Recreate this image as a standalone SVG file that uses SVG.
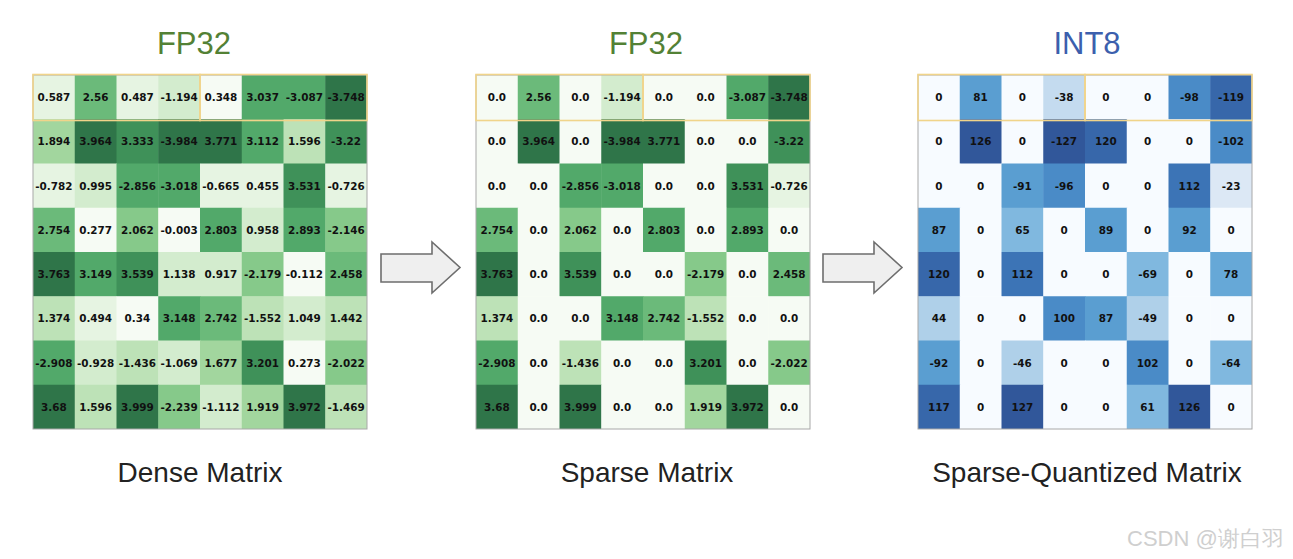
<svg xmlns="http://www.w3.org/2000/svg" width="1293" height="559" viewBox="0 0 1293 559">
<style>
text{font-family:"Liberation Sans",Arial,sans-serif}
.t{font-family:"DejaVu Sans",sans-serif;font-weight:bold;font-size:10.4px;fill:#111;text-anchor:middle;dominant-baseline:central}
.title{font-size:31px;text-anchor:middle}
.lab{font-size:28px;text-anchor:middle;fill:#222}
.border{fill:none;stroke:#a8a8a8;stroke-width:1}
.hl{fill:none;stroke:#f0d48a;stroke-width:1.6}
.arrow{fill:#efefef;stroke:#6e6e6e;stroke-width:1.6;stroke-linejoin:miter}
.g0{fill:#f6fbf4}.g1{fill:#e6f4e2}.g2{fill:#d3ecce}.g3{fill:#bde2b7}.g4{fill:#a2d69e}
.g5{fill:#86c98a}.g6{fill:#6bba7a}.g7{fill:#52a96a}.g8{fill:#3f9159}.g9{fill:#2f7549}
.b0{fill:#f7fbff}.b1{fill:#dce8f5}.b2{fill:#c4dbef}.b3{fill:#afd0e9}.b4{fill:#80b8df}
.b5{fill:#66a8d7}.b6{fill:#5a9ed1}.b7{fill:#4a8bc7}.b8{fill:#3c74b6}.b9{fill:#3767aa}.b10{fill:#31579a}
</style>
<rect width="1293" height="559" fill="#ffffff"/>

<g id="dense-matrix">
<text class="title" x="194" y="54" fill="#538135">FP32</text>
<g transform="translate(33,75)">
<rect class="g1" x="0" y="0" width="42.25" height="44.75"/><rect class="g6" x="41.75" y="0" width="42.25" height="44.75"/><rect class="g1" x="83.5" y="0" width="42.25" height="44.75"/><rect class="g2" x="125.25" y="0" width="42.25" height="44.75"/><rect class="g0" x="167" y="0" width="42.25" height="44.75"/><rect class="g7" x="208.75" y="0" width="42.25" height="44.75"/><rect class="g7" x="250.5" y="0" width="42.25" height="44.75"/><rect class="g9" x="292.25" y="0" width="41.75" height="44.75"/>
<rect class="g4" x="0" y="44.25" width="42.25" height="44.75"/><rect class="g9" x="41.75" y="44.25" width="42.25" height="44.75"/><rect class="g8" x="83.5" y="44.25" width="42.25" height="44.75"/><rect class="g9" x="125.25" y="44.25" width="42.25" height="44.75"/><rect class="g9" x="167" y="44.25" width="42.25" height="44.75"/><rect class="g7" x="208.75" y="44.25" width="42.25" height="44.75"/><rect class="g3" x="250.5" y="44.25" width="42.25" height="44.75"/><rect class="g8" x="292.25" y="44.25" width="41.75" height="44.75"/>
<rect class="g1" x="0" y="88.5" width="42.25" height="44.75"/><rect class="g2" x="41.75" y="88.5" width="42.25" height="44.75"/><rect class="g7" x="83.5" y="88.5" width="42.25" height="44.75"/><rect class="g7" x="125.25" y="88.5" width="42.25" height="44.75"/><rect class="g1" x="167" y="88.5" width="42.25" height="44.75"/><rect class="g1" x="208.75" y="88.5" width="42.25" height="44.75"/><rect class="g8" x="250.5" y="88.5" width="42.25" height="44.75"/><rect class="g1" x="292.25" y="88.5" width="41.75" height="44.75"/>
<rect class="g6" x="0" y="132.75" width="42.25" height="44.75"/><rect class="g0" x="41.75" y="132.75" width="42.25" height="44.75"/><rect class="g5" x="83.5" y="132.75" width="42.25" height="44.75"/><rect class="g0" x="125.25" y="132.75" width="42.25" height="44.75"/><rect class="g7" x="167" y="132.75" width="42.25" height="44.75"/><rect class="g2" x="208.75" y="132.75" width="42.25" height="44.75"/><rect class="g7" x="250.5" y="132.75" width="42.25" height="44.75"/><rect class="g5" x="292.25" y="132.75" width="41.75" height="44.75"/>
<rect class="g9" x="0" y="177" width="42.25" height="44.75"/><rect class="g7" x="41.75" y="177" width="42.25" height="44.75"/><rect class="g8" x="83.5" y="177" width="42.25" height="44.75"/><rect class="g2" x="125.25" y="177" width="42.25" height="44.75"/><rect class="g2" x="167" y="177" width="42.25" height="44.75"/><rect class="g5" x="208.75" y="177" width="42.25" height="44.75"/><rect class="g0" x="250.5" y="177" width="42.25" height="44.75"/><rect class="g6" x="292.25" y="177" width="41.75" height="44.75"/>
<rect class="g3" x="0" y="221.25" width="42.25" height="44.75"/><rect class="g1" x="41.75" y="221.25" width="42.25" height="44.75"/><rect class="g0" x="83.5" y="221.25" width="42.25" height="44.75"/><rect class="g7" x="125.25" y="221.25" width="42.25" height="44.75"/><rect class="g6" x="167" y="221.25" width="42.25" height="44.75"/><rect class="g3" x="208.75" y="221.25" width="42.25" height="44.75"/><rect class="g2" x="250.5" y="221.25" width="42.25" height="44.75"/><rect class="g3" x="292.25" y="221.25" width="41.75" height="44.75"/>
<rect class="g7" x="0" y="265.5" width="42.25" height="44.75"/><rect class="g2" x="41.75" y="265.5" width="42.25" height="44.75"/><rect class="g3" x="83.5" y="265.5" width="42.25" height="44.75"/><rect class="g2" x="125.25" y="265.5" width="42.25" height="44.75"/><rect class="g4" x="167" y="265.5" width="42.25" height="44.75"/><rect class="g8" x="208.75" y="265.5" width="42.25" height="44.75"/><rect class="g0" x="250.5" y="265.5" width="42.25" height="44.75"/><rect class="g5" x="292.25" y="265.5" width="41.75" height="44.75"/>
<rect class="g9" x="0" y="309.75" width="42.25" height="44.25"/><rect class="g3" x="41.75" y="309.75" width="42.25" height="44.25"/><rect class="g9" x="83.5" y="309.75" width="42.25" height="44.25"/><rect class="g5" x="125.25" y="309.75" width="42.25" height="44.25"/><rect class="g2" x="167" y="309.75" width="42.25" height="44.25"/><rect class="g4" x="208.75" y="309.75" width="42.25" height="44.25"/><rect class="g9" x="250.5" y="309.75" width="42.25" height="44.25"/><rect class="g3" x="292.25" y="309.75" width="41.75" height="44.25"/>
<text class="t" x="20.9" y="22.1">0.587</text><text class="t" x="62.6" y="22.1">2.56</text><text class="t" x="104.4" y="22.1">0.487</text><text class="t" x="146.1" y="22.1">-1.194</text><text class="t" x="187.9" y="22.1">0.348</text><text class="t" x="229.6" y="22.1">3.037</text><text class="t" x="271.4" y="22.1">-3.087</text><text class="t" x="313.1" y="22.1">-3.748</text>
<text class="t" x="20.9" y="66.4">1.894</text><text class="t" x="62.6" y="66.4">3.964</text><text class="t" x="104.4" y="66.4">3.333</text><text class="t" x="146.1" y="66.4">-3.984</text><text class="t" x="187.9" y="66.4">3.771</text><text class="t" x="229.6" y="66.4">3.112</text><text class="t" x="271.4" y="66.4">1.596</text><text class="t" x="313.1" y="66.4">-3.22</text>
<text class="t" x="20.9" y="110.6">-0.782</text><text class="t" x="62.6" y="110.6">0.995</text><text class="t" x="104.4" y="110.6">-2.856</text><text class="t" x="146.1" y="110.6">-3.018</text><text class="t" x="187.9" y="110.6">-0.665</text><text class="t" x="229.6" y="110.6">0.455</text><text class="t" x="271.4" y="110.6">3.531</text><text class="t" x="313.1" y="110.6">-0.726</text>
<text class="t" x="20.9" y="154.9">2.754</text><text class="t" x="62.6" y="154.9">0.277</text><text class="t" x="104.4" y="154.9">2.062</text><text class="t" x="146.1" y="154.9">-0.003</text><text class="t" x="187.9" y="154.9">2.803</text><text class="t" x="229.6" y="154.9">0.958</text><text class="t" x="271.4" y="154.9">2.893</text><text class="t" x="313.1" y="154.9">-2.146</text>
<text class="t" x="20.9" y="199.1">3.763</text><text class="t" x="62.6" y="199.1">3.149</text><text class="t" x="104.4" y="199.1">3.539</text><text class="t" x="146.1" y="199.1">1.138</text><text class="t" x="187.9" y="199.1">0.917</text><text class="t" x="229.6" y="199.1">-2.179</text><text class="t" x="271.4" y="199.1">-0.112</text><text class="t" x="313.1" y="199.1">2.458</text>
<text class="t" x="20.9" y="243.4">1.374</text><text class="t" x="62.6" y="243.4">0.494</text><text class="t" x="104.4" y="243.4">0.34</text><text class="t" x="146.1" y="243.4">3.148</text><text class="t" x="187.9" y="243.4">2.742</text><text class="t" x="229.6" y="243.4">-1.552</text><text class="t" x="271.4" y="243.4">1.049</text><text class="t" x="313.1" y="243.4">1.442</text>
<text class="t" x="20.9" y="287.6">-2.908</text><text class="t" x="62.6" y="287.6">-0.928</text><text class="t" x="104.4" y="287.6">-1.436</text><text class="t" x="146.1" y="287.6">-1.069</text><text class="t" x="187.9" y="287.6">1.677</text><text class="t" x="229.6" y="287.6">3.201</text><text class="t" x="271.4" y="287.6">0.273</text><text class="t" x="313.1" y="287.6">-2.022</text>
<text class="t" x="20.9" y="331.9">3.68</text><text class="t" x="62.6" y="331.9">1.596</text><text class="t" x="104.4" y="331.9">3.999</text><text class="t" x="146.1" y="331.9">-2.239</text><text class="t" x="187.9" y="331.9">-1.112</text><text class="t" x="229.6" y="331.9">1.919</text><text class="t" x="271.4" y="331.9">3.972</text><text class="t" x="313.1" y="331.9">-1.469</text>
<rect class="border" x="0" y="0" width="334" height="354"/>
<rect class="hl" x="0" y="-0.5" width="167" height="46"/><rect class="hl" x="167" y="-0.5" width="167" height="46"/>
</g>
<text class="lab" x="200" y="482">Dense Matrix</text>
</g>

<g id="sparse-matrix">
<text class="title" x="646" y="54" fill="#538135">FP32</text>
<g transform="translate(476,75)">
<rect class="g0" x="0" y="0" width="42.25" height="44.75"/><rect class="g6" x="41.75" y="0" width="42.25" height="44.75"/><rect class="g0" x="83.5" y="0" width="42.25" height="44.75"/><rect class="g2" x="125.25" y="0" width="42.25" height="44.75"/><rect class="g0" x="167" y="0" width="42.25" height="44.75"/><rect class="g0" x="208.75" y="0" width="42.25" height="44.75"/><rect class="g7" x="250.5" y="0" width="42.25" height="44.75"/><rect class="g9" x="292.25" y="0" width="41.75" height="44.75"/>
<rect class="g0" x="0" y="44.25" width="42.25" height="44.75"/><rect class="g9" x="41.75" y="44.25" width="42.25" height="44.75"/><rect class="g0" x="83.5" y="44.25" width="42.25" height="44.75"/><rect class="g9" x="125.25" y="44.25" width="42.25" height="44.75"/><rect class="g9" x="167" y="44.25" width="42.25" height="44.75"/><rect class="g0" x="208.75" y="44.25" width="42.25" height="44.75"/><rect class="g0" x="250.5" y="44.25" width="42.25" height="44.75"/><rect class="g8" x="292.25" y="44.25" width="41.75" height="44.75"/>
<rect class="g0" x="0" y="88.5" width="42.25" height="44.75"/><rect class="g0" x="41.75" y="88.5" width="42.25" height="44.75"/><rect class="g7" x="83.5" y="88.5" width="42.25" height="44.75"/><rect class="g7" x="125.25" y="88.5" width="42.25" height="44.75"/><rect class="g0" x="167" y="88.5" width="42.25" height="44.75"/><rect class="g0" x="208.75" y="88.5" width="42.25" height="44.75"/><rect class="g8" x="250.5" y="88.5" width="42.25" height="44.75"/><rect class="g1" x="292.25" y="88.5" width="41.75" height="44.75"/>
<rect class="g6" x="0" y="132.75" width="42.25" height="44.75"/><rect class="g0" x="41.75" y="132.75" width="42.25" height="44.75"/><rect class="g5" x="83.5" y="132.75" width="42.25" height="44.75"/><rect class="g0" x="125.25" y="132.75" width="42.25" height="44.75"/><rect class="g7" x="167" y="132.75" width="42.25" height="44.75"/><rect class="g0" x="208.75" y="132.75" width="42.25" height="44.75"/><rect class="g7" x="250.5" y="132.75" width="42.25" height="44.75"/><rect class="g0" x="292.25" y="132.75" width="41.75" height="44.75"/>
<rect class="g9" x="0" y="177" width="42.25" height="44.75"/><rect class="g0" x="41.75" y="177" width="42.25" height="44.75"/><rect class="g8" x="83.5" y="177" width="42.25" height="44.75"/><rect class="g0" x="125.25" y="177" width="42.25" height="44.75"/><rect class="g0" x="167" y="177" width="42.25" height="44.75"/><rect class="g5" x="208.75" y="177" width="42.25" height="44.75"/><rect class="g0" x="250.5" y="177" width="42.25" height="44.75"/><rect class="g6" x="292.25" y="177" width="41.75" height="44.75"/>
<rect class="g3" x="0" y="221.25" width="42.25" height="44.75"/><rect class="g0" x="41.75" y="221.25" width="42.25" height="44.75"/><rect class="g0" x="83.5" y="221.25" width="42.25" height="44.75"/><rect class="g7" x="125.25" y="221.25" width="42.25" height="44.75"/><rect class="g6" x="167" y="221.25" width="42.25" height="44.75"/><rect class="g3" x="208.75" y="221.25" width="42.25" height="44.75"/><rect class="g0" x="250.5" y="221.25" width="42.25" height="44.75"/><rect class="g0" x="292.25" y="221.25" width="41.75" height="44.75"/>
<rect class="g7" x="0" y="265.5" width="42.25" height="44.75"/><rect class="g0" x="41.75" y="265.5" width="42.25" height="44.75"/><rect class="g3" x="83.5" y="265.5" width="42.25" height="44.75"/><rect class="g0" x="125.25" y="265.5" width="42.25" height="44.75"/><rect class="g0" x="167" y="265.5" width="42.25" height="44.75"/><rect class="g8" x="208.75" y="265.5" width="42.25" height="44.75"/><rect class="g0" x="250.5" y="265.5" width="42.25" height="44.75"/><rect class="g5" x="292.25" y="265.5" width="41.75" height="44.75"/>
<rect class="g9" x="0" y="309.75" width="42.25" height="44.25"/><rect class="g0" x="41.75" y="309.75" width="42.25" height="44.25"/><rect class="g9" x="83.5" y="309.75" width="42.25" height="44.25"/><rect class="g0" x="125.25" y="309.75" width="42.25" height="44.25"/><rect class="g0" x="167" y="309.75" width="42.25" height="44.25"/><rect class="g4" x="208.75" y="309.75" width="42.25" height="44.25"/><rect class="g9" x="250.5" y="309.75" width="42.25" height="44.25"/><rect class="g0" x="292.25" y="309.75" width="41.75" height="44.25"/>
<text class="t" x="20.9" y="22.1">0.0</text><text class="t" x="62.6" y="22.1">2.56</text><text class="t" x="104.4" y="22.1">0.0</text><text class="t" x="146.1" y="22.1">-1.194</text><text class="t" x="187.9" y="22.1">0.0</text><text class="t" x="229.6" y="22.1">0.0</text><text class="t" x="271.4" y="22.1">-3.087</text><text class="t" x="313.1" y="22.1">-3.748</text>
<text class="t" x="20.9" y="66.4">0.0</text><text class="t" x="62.6" y="66.4">3.964</text><text class="t" x="104.4" y="66.4">0.0</text><text class="t" x="146.1" y="66.4">-3.984</text><text class="t" x="187.9" y="66.4">3.771</text><text class="t" x="229.6" y="66.4">0.0</text><text class="t" x="271.4" y="66.4">0.0</text><text class="t" x="313.1" y="66.4">-3.22</text>
<text class="t" x="20.9" y="110.6">0.0</text><text class="t" x="62.6" y="110.6">0.0</text><text class="t" x="104.4" y="110.6">-2.856</text><text class="t" x="146.1" y="110.6">-3.018</text><text class="t" x="187.9" y="110.6">0.0</text><text class="t" x="229.6" y="110.6">0.0</text><text class="t" x="271.4" y="110.6">3.531</text><text class="t" x="313.1" y="110.6">-0.726</text>
<text class="t" x="20.9" y="154.9">2.754</text><text class="t" x="62.6" y="154.9">0.0</text><text class="t" x="104.4" y="154.9">2.062</text><text class="t" x="146.1" y="154.9">0.0</text><text class="t" x="187.9" y="154.9">2.803</text><text class="t" x="229.6" y="154.9">0.0</text><text class="t" x="271.4" y="154.9">2.893</text><text class="t" x="313.1" y="154.9">0.0</text>
<text class="t" x="20.9" y="199.1">3.763</text><text class="t" x="62.6" y="199.1">0.0</text><text class="t" x="104.4" y="199.1">3.539</text><text class="t" x="146.1" y="199.1">0.0</text><text class="t" x="187.9" y="199.1">0.0</text><text class="t" x="229.6" y="199.1">-2.179</text><text class="t" x="271.4" y="199.1">0.0</text><text class="t" x="313.1" y="199.1">2.458</text>
<text class="t" x="20.9" y="243.4">1.374</text><text class="t" x="62.6" y="243.4">0.0</text><text class="t" x="104.4" y="243.4">0.0</text><text class="t" x="146.1" y="243.4">3.148</text><text class="t" x="187.9" y="243.4">2.742</text><text class="t" x="229.6" y="243.4">-1.552</text><text class="t" x="271.4" y="243.4">0.0</text><text class="t" x="313.1" y="243.4">0.0</text>
<text class="t" x="20.9" y="287.6">-2.908</text><text class="t" x="62.6" y="287.6">0.0</text><text class="t" x="104.4" y="287.6">-1.436</text><text class="t" x="146.1" y="287.6">0.0</text><text class="t" x="187.9" y="287.6">0.0</text><text class="t" x="229.6" y="287.6">3.201</text><text class="t" x="271.4" y="287.6">0.0</text><text class="t" x="313.1" y="287.6">-2.022</text>
<text class="t" x="20.9" y="331.9">3.68</text><text class="t" x="62.6" y="331.9">0.0</text><text class="t" x="104.4" y="331.9">3.999</text><text class="t" x="146.1" y="331.9">0.0</text><text class="t" x="187.9" y="331.9">0.0</text><text class="t" x="229.6" y="331.9">1.919</text><text class="t" x="271.4" y="331.9">3.972</text><text class="t" x="313.1" y="331.9">0.0</text>
<rect class="border" x="0" y="0" width="334" height="354"/>
<rect class="hl" x="0" y="-0.5" width="167" height="46"/><rect class="hl" x="167" y="-0.5" width="167" height="46"/>
</g>
<text class="lab" x="647" y="482">Sparse Matrix</text>
</g>

<g id="quantized-matrix">
<text class="title" x="1087" y="54" fill="#3c5fad">INT8</text>
<g transform="translate(918,75)">
<rect class="b0" x="0" y="0" width="42.25" height="44.75"/><rect class="b6" x="41.75" y="0" width="42.25" height="44.75"/><rect class="b0" x="83.5" y="0" width="42.25" height="44.75"/><rect class="b2" x="125.25" y="0" width="42.25" height="44.75"/><rect class="b0" x="167" y="0" width="42.25" height="44.75"/><rect class="b0" x="208.75" y="0" width="42.25" height="44.75"/><rect class="b7" x="250.5" y="0" width="42.25" height="44.75"/><rect class="b9" x="292.25" y="0" width="41.75" height="44.75"/>
<rect class="b0" x="0" y="44.25" width="42.25" height="44.75"/><rect class="b10" x="41.75" y="44.25" width="42.25" height="44.75"/><rect class="b0" x="83.5" y="44.25" width="42.25" height="44.75"/><rect class="b10" x="125.25" y="44.25" width="42.25" height="44.75"/><rect class="b9" x="167" y="44.25" width="42.25" height="44.75"/><rect class="b0" x="208.75" y="44.25" width="42.25" height="44.75"/><rect class="b0" x="250.5" y="44.25" width="42.25" height="44.75"/><rect class="b7" x="292.25" y="44.25" width="41.75" height="44.75"/>
<rect class="b0" x="0" y="88.5" width="42.25" height="44.75"/><rect class="b0" x="41.75" y="88.5" width="42.25" height="44.75"/><rect class="b6" x="83.5" y="88.5" width="42.25" height="44.75"/><rect class="b7" x="125.25" y="88.5" width="42.25" height="44.75"/><rect class="b0" x="167" y="88.5" width="42.25" height="44.75"/><rect class="b0" x="208.75" y="88.5" width="42.25" height="44.75"/><rect class="b8" x="250.5" y="88.5" width="42.25" height="44.75"/><rect class="b1" x="292.25" y="88.5" width="41.75" height="44.75"/>
<rect class="b6" x="0" y="132.75" width="42.25" height="44.75"/><rect class="b0" x="41.75" y="132.75" width="42.25" height="44.75"/><rect class="b4" x="83.5" y="132.75" width="42.25" height="44.75"/><rect class="b0" x="125.25" y="132.75" width="42.25" height="44.75"/><rect class="b6" x="167" y="132.75" width="42.25" height="44.75"/><rect class="b0" x="208.75" y="132.75" width="42.25" height="44.75"/><rect class="b6" x="250.5" y="132.75" width="42.25" height="44.75"/><rect class="b0" x="292.25" y="132.75" width="41.75" height="44.75"/>
<rect class="b9" x="0" y="177" width="42.25" height="44.75"/><rect class="b0" x="41.75" y="177" width="42.25" height="44.75"/><rect class="b8" x="83.5" y="177" width="42.25" height="44.75"/><rect class="b0" x="125.25" y="177" width="42.25" height="44.75"/><rect class="b0" x="167" y="177" width="42.25" height="44.75"/><rect class="b4" x="208.75" y="177" width="42.25" height="44.75"/><rect class="b0" x="250.5" y="177" width="42.25" height="44.75"/><rect class="b5" x="292.25" y="177" width="41.75" height="44.75"/>
<rect class="b3" x="0" y="221.25" width="42.25" height="44.75"/><rect class="b0" x="41.75" y="221.25" width="42.25" height="44.75"/><rect class="b0" x="83.5" y="221.25" width="42.25" height="44.75"/><rect class="b7" x="125.25" y="221.25" width="42.25" height="44.75"/><rect class="b6" x="167" y="221.25" width="42.25" height="44.75"/><rect class="b3" x="208.75" y="221.25" width="42.25" height="44.75"/><rect class="b0" x="250.5" y="221.25" width="42.25" height="44.75"/><rect class="b0" x="292.25" y="221.25" width="41.75" height="44.75"/>
<rect class="b6" x="0" y="265.5" width="42.25" height="44.75"/><rect class="b0" x="41.75" y="265.5" width="42.25" height="44.75"/><rect class="b3" x="83.5" y="265.5" width="42.25" height="44.75"/><rect class="b0" x="125.25" y="265.5" width="42.25" height="44.75"/><rect class="b0" x="167" y="265.5" width="42.25" height="44.75"/><rect class="b7" x="208.75" y="265.5" width="42.25" height="44.75"/><rect class="b0" x="250.5" y="265.5" width="42.25" height="44.75"/><rect class="b4" x="292.25" y="265.5" width="41.75" height="44.75"/>
<rect class="b9" x="0" y="309.75" width="42.25" height="44.25"/><rect class="b0" x="41.75" y="309.75" width="42.25" height="44.25"/><rect class="b10" x="83.5" y="309.75" width="42.25" height="44.25"/><rect class="b0" x="125.25" y="309.75" width="42.25" height="44.25"/><rect class="b0" x="167" y="309.75" width="42.25" height="44.25"/><rect class="b4" x="208.75" y="309.75" width="42.25" height="44.25"/><rect class="b10" x="250.5" y="309.75" width="42.25" height="44.25"/><rect class="b0" x="292.25" y="309.75" width="41.75" height="44.25"/>
<text class="t" x="20.9" y="22.1">0</text><text class="t" x="62.6" y="22.1">81</text><text class="t" x="104.4" y="22.1">0</text><text class="t" x="146.1" y="22.1">-38</text><text class="t" x="187.9" y="22.1">0</text><text class="t" x="229.6" y="22.1">0</text><text class="t" x="271.4" y="22.1">-98</text><text class="t" x="313.1" y="22.1">-119</text>
<text class="t" x="20.9" y="66.4">0</text><text class="t" x="62.6" y="66.4">126</text><text class="t" x="104.4" y="66.4">0</text><text class="t" x="146.1" y="66.4">-127</text><text class="t" x="187.9" y="66.4">120</text><text class="t" x="229.6" y="66.4">0</text><text class="t" x="271.4" y="66.4">0</text><text class="t" x="313.1" y="66.4">-102</text>
<text class="t" x="20.9" y="110.6">0</text><text class="t" x="62.6" y="110.6">0</text><text class="t" x="104.4" y="110.6">-91</text><text class="t" x="146.1" y="110.6">-96</text><text class="t" x="187.9" y="110.6">0</text><text class="t" x="229.6" y="110.6">0</text><text class="t" x="271.4" y="110.6">112</text><text class="t" x="313.1" y="110.6">-23</text>
<text class="t" x="20.9" y="154.9">87</text><text class="t" x="62.6" y="154.9">0</text><text class="t" x="104.4" y="154.9">65</text><text class="t" x="146.1" y="154.9">0</text><text class="t" x="187.9" y="154.9">89</text><text class="t" x="229.6" y="154.9">0</text><text class="t" x="271.4" y="154.9">92</text><text class="t" x="313.1" y="154.9">0</text>
<text class="t" x="20.9" y="199.1">120</text><text class="t" x="62.6" y="199.1">0</text><text class="t" x="104.4" y="199.1">112</text><text class="t" x="146.1" y="199.1">0</text><text class="t" x="187.9" y="199.1">0</text><text class="t" x="229.6" y="199.1">-69</text><text class="t" x="271.4" y="199.1">0</text><text class="t" x="313.1" y="199.1">78</text>
<text class="t" x="20.9" y="243.4">44</text><text class="t" x="62.6" y="243.4">0</text><text class="t" x="104.4" y="243.4">0</text><text class="t" x="146.1" y="243.4">100</text><text class="t" x="187.9" y="243.4">87</text><text class="t" x="229.6" y="243.4">-49</text><text class="t" x="271.4" y="243.4">0</text><text class="t" x="313.1" y="243.4">0</text>
<text class="t" x="20.9" y="287.6">-92</text><text class="t" x="62.6" y="287.6">0</text><text class="t" x="104.4" y="287.6">-46</text><text class="t" x="146.1" y="287.6">0</text><text class="t" x="187.9" y="287.6">0</text><text class="t" x="229.6" y="287.6">102</text><text class="t" x="271.4" y="287.6">0</text><text class="t" x="313.1" y="287.6">-64</text>
<text class="t" x="20.9" y="331.9">117</text><text class="t" x="62.6" y="331.9">0</text><text class="t" x="104.4" y="331.9">127</text><text class="t" x="146.1" y="331.9">0</text><text class="t" x="187.9" y="331.9">0</text><text class="t" x="229.6" y="331.9">61</text><text class="t" x="271.4" y="331.9">126</text><text class="t" x="313.1" y="331.9">0</text>
<rect class="border" x="0" y="0" width="334" height="354"/>
<rect class="hl" x="0" y="-0.5" width="167" height="46"/><rect class="hl" x="167" y="-0.5" width="167" height="46"/>
</g>
<text class="lab" x="1087" y="482">Sparse-Quantized Matrix</text>
</g>

<g id="connectors">
<polygon class="arrow" points="381,254 432,254 432,242 460,267.5 432,293 432,282 381,282"/>
<polygon class="arrow" points="823,254 874,254 874,242 902,267.5 874,293 874,282 823,282"/>
</g>

<text x="1127" y="546" font-size="22" fill="#cfcfcf" font-family="'Liberation Sans','Noto Sans CJK SC',sans-serif">CSDN @谢白羽</text>
</svg>
